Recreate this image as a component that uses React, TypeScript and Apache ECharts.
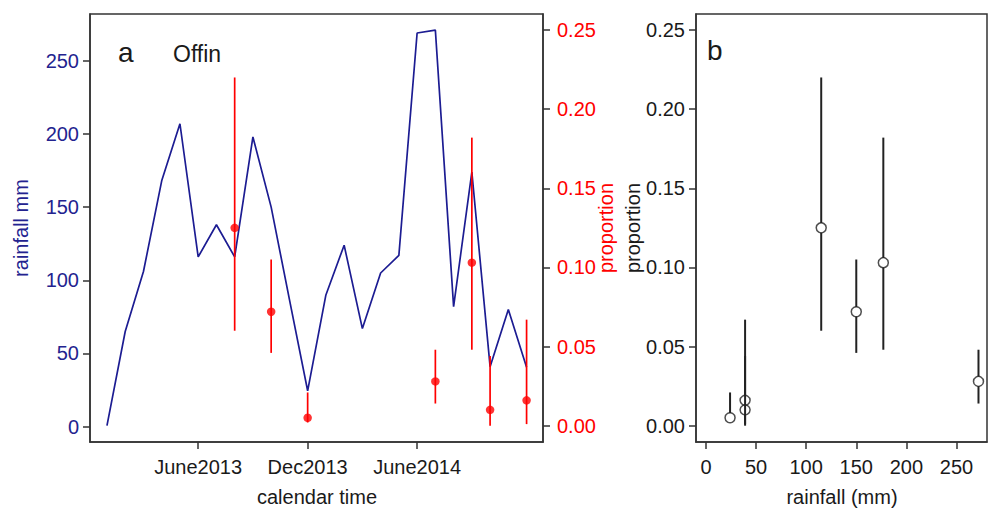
import React, { useEffect, useRef } from "react";
import * as echarts from "echarts";

// ---- data ----
const months = [
  "2013-01", "2013-02", "2013-03", "2013-04", "2013-05", "2013-06",
  "2013-07", "2013-08", "2013-09", "2013-10", "2013-11", "2013-12",
  "2014-01", "2014-02", "2014-03", "2014-04", "2014-05", "2014-06",
  "2014-07", "2014-08", "2014-09", "2014-10", "2014-11", "2014-12",
];
const rainfall = [
  0.7, 65, 106, 168, 207, 116, 138, 116, 198, 150, 87, 24.5,
  90, 124, 67, 105, 117, 269, 271, 82, 174, 41, 80, 40.6,
];
// sampling months (index into months) with proportion and 95% CI
const sampleMonthIdx = [7, 9, 11, 18, 20, 21, 23];
const propMean = [0.125, 0.072, 0.005, 0.028, 0.103, 0.010, 0.016];
const propLo = [0.060, 0.046, 0.002, 0.014, 0.048, 0.000, 0.001];
const propHi = [0.220, 0.105, 0.021, 0.048, 0.182, 0.044, 0.067];
// rainfall (mm) in the sampling months, panel b
const sampleRain = [115, 150, 24, 272, 177, 39, 39];

const xTickPos = [5, 11, 17];
const xTickLabels = ["June2013", "Dec2013", "June2014"];
const rainTicks = [0, 50, 100, 150, 200, 250];
const propTicks = [0, 0.05, 0.1, 0.15, 0.2, 0.25];
const rainXTicks = [0, 50, 100, 150, 200, 250];

const FONT = "'Liberation Sans', Arial, Helvetica, sans-serif";
const BLUE = "#1c1c92";
const BLUE_TXT = "#23238f";
const RED = "#ff0000";
const INK = "#1a1a1a";
const AXIS = "#333333";
const FS = 20;

export default function App() {
  const ref = useRef<HTMLDivElement>(null);

  useEffect(() => {
    if (!ref.current) return;
    const chart = echarts.init(ref.current, null, { renderer: "svg" });

    const axisLine = { show: true, onZero: false, lineStyle: { color: AXIS, width: 1.5 } };
    const tick = (vals: number[]) => ({
      show: true,
      customValues: vals,
      length: 7,
      inside: false,
      lineStyle: { color: AXIS, width: 1.5 },
    });
    const label = (vals: number[], color: string, fmt: (v: number) => string, margin: number) => ({
      show: true,
      customValues: vals,
      color,
      fontSize: FS,
      fontFamily: FONT,
      margin,
      formatter: fmt,
    });

    const lineData = months.map((_, i) => [i, rainfall[i]]);
    const leftBars = sampleMonthIdx.map((m, i) => [m, propLo[i], propHi[i], propMean[i]]);
    const leftDots = sampleMonthIdx.map((m, i) => [m, propMean[i]]);
    const rightBars = sampleRain.map((r, i) => [r, propLo[i], propHi[i], propMean[i]]);
    const rightDots = sampleRain.map((r, i) => [r, propMean[i]]);

    const option: any = {
      animation: false,
      backgroundColor: "#ffffff",
      textStyle: { fontFamily: FONT },
      grid: [
        { left: 90, top: 14, width: 453, height: 428, show: true, borderColor: AXIS, borderWidth: 1.5, backgroundColor: "transparent" },
        { left: 696, top: 14, width: 291, height: 428, show: true, borderColor: AXIS, borderWidth: 1.5, backgroundColor: "transparent" },
      ],
      xAxis: [
        {
          type: "value", gridIndex: 0, min: -0.93, max: 23.9,
          axisLine, axisTick: tick(xTickPos),
          axisLabel: label(xTickPos, INK, (v: number) => {
            const k = xTickPos.indexOf(Math.round(v));
            return k >= 0 ? xTickLabels[k] : "";
          }, 15),
          splitLine: { show: false },
        },
        {
          type: "value", gridIndex: 1, min: -10, max: 280.5,
          axisLine, axisTick: tick(rainXTicks),
          axisLabel: label(rainXTicks, INK, (v: number) => String(Math.round(v)), 15),
          splitLine: { show: false },
        },
      ],
      yAxis: [
        {
          type: "value", gridIndex: 0, position: "left", min: -10.5, max: 282,
          axisLine, axisTick: tick(rainTicks),
          axisLabel: label(rainTicks, BLUE_TXT, (v: number) => String(Math.round(v)), 11),
          splitLine: { show: false },
        },
        {
          type: "value", gridIndex: 0, position: "right", min: -0.0103, max: 0.2601,
          axisLine, axisTick: tick(propTicks),
          axisLabel: label(propTicks, RED, (v: number) => v.toFixed(2), 14),
          splitLine: { show: false },
        },
        {
          type: "value", gridIndex: 1, position: "left", min: -0.0103, max: 0.2601,
          axisLine, axisTick: tick(propTicks),
          axisLabel: label(propTicks, INK, (v: number) => v.toFixed(2), 11),
          splitLine: { show: false },
        },
      ],
      series: [
        {
          type: "line", xAxisIndex: 0, yAxisIndex: 0, data: lineData,
          showSymbol: false, symbol: "none",
          lineStyle: { color: BLUE, width: 1.7 },
          z: 2,
        },
        {
          type: "custom", xAxisIndex: 0, yAxisIndex: 1, data: leftBars,
          encode: { x: 0, y: [1, 2] },
          z: 3,
          renderItem: (_p: any, api: any) => {
            const x = api.value(0);
            const a = api.coord([x, api.value(1)]);
            const b = api.coord([x, api.value(2)]);
            return {
              type: "line",
              shape: { x1: a[0], y1: a[1], x2: b[0], y2: b[1] },
              style: { stroke: RED, lineWidth: 1.7 },
            };
          },
        },
        {
          type: "scatter", xAxisIndex: 0, yAxisIndex: 1, data: leftDots,
          symbol: "circle", symbolSize: 8.5,
          itemStyle: { color: RED },
          z: 4,
        },
        {
          type: "custom", xAxisIndex: 1, yAxisIndex: 2, data: rightBars,
          encode: { x: 0, y: [1, 2] },
          z: 3,
          renderItem: (_p: any, api: any) => {
            const x = api.value(0);
            const lo = api.coord([x, api.value(1)]);
            const hi = api.coord([x, api.value(2)]);
            const m = api.coord([x, api.value(3)]);
            const r = 4.8;
            const children: any[] = [];
            if (hi[1] < m[1] - r) {
              children.push({
                type: "line",
                shape: { x1: m[0], y1: hi[1], x2: m[0], y2: m[1] - r },
                style: { stroke: "#222222", lineWidth: 2 },
              });
            }
            if (lo[1] > m[1] + r) {
              children.push({
                type: "line",
                shape: { x1: m[0], y1: m[1] + r, x2: m[0], y2: lo[1] },
                style: { stroke: "#222222", lineWidth: 2 },
              });
            }
            return { type: "group", children };
          },
        },
        {
          type: "scatter", xAxisIndex: 1, yAxisIndex: 2, data: rightDots,
          symbol: "circle", symbolSize: 10,
          itemStyle: { color: "rgba(0,0,0,0)", borderColor: "#222222", borderWidth: 1.5 },
          z: 4,
        },
      ],
      graphic: [
        { type: "text", x: 118, y: 52, style: { text: "a", fill: INK, font: `28px ${FONT}`, align: "left", verticalAlign: "middle" } },
        { type: "text", x: 173, y: 54, style: { text: "Offin", fill: INK, font: `23px ${FONT}`, align: "left", verticalAlign: "middle" } },
        { type: "text", x: 707, y: 50, style: { text: "b", fill: INK, font: `28px ${FONT}`, align: "left", verticalAlign: "middle" } },
        { type: "text", x: 20.5, y: 228, rotation: Math.PI / 2, style: { text: "rainfall mm", fill: BLUE_TXT, font: `${FS}px ${FONT}`, align: "center", verticalAlign: "middle" } },
        { type: "text", x: 605.5, y: 228, rotation: Math.PI / 2, style: { text: "proportion", fill: RED, font: `${FS}px ${FONT}`, align: "center", verticalAlign: "middle" } },
        { type: "text", x: 633, y: 228, rotation: Math.PI / 2, style: { text: "proportion", fill: INK, font: `${FS}px ${FONT}`, align: "center", verticalAlign: "middle" } },
        { type: "text", x: 317, y: 497, style: { text: "calendar time", fill: INK, font: `${FS}px ${FONT}`, align: "center", verticalAlign: "middle" } },
        { type: "text", x: 842, y: 497, style: { text: "rainfall (mm)", fill: INK, font: `${FS}px ${FONT}`, align: "center", verticalAlign: "middle" } },
      ],
    };

    chart.setOption(option);
    return () => chart.dispose();
  }, []);

  return (
    <div
      ref={ref}
      style={{ position: "fixed", left: 0, top: 0, width: 988, height: 509, background: "#fff" }}
    />
  );
}
